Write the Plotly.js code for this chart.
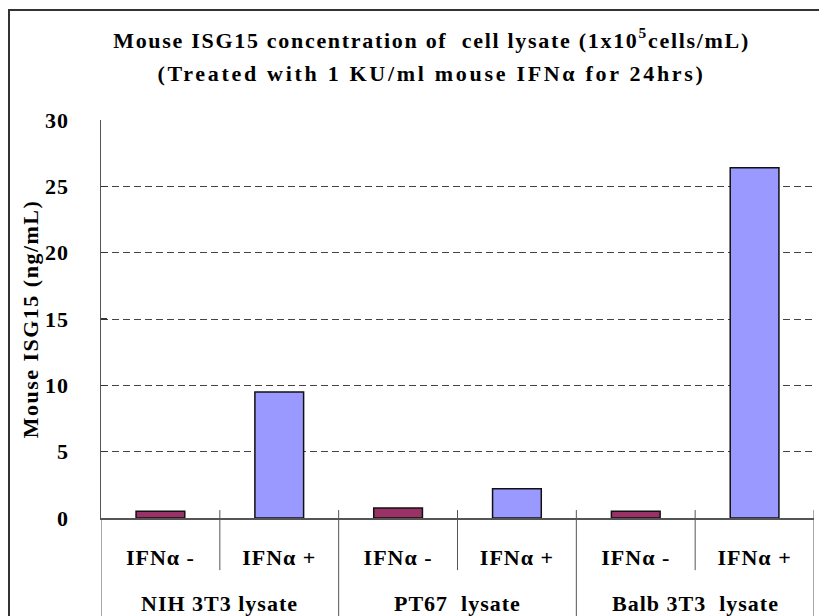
<!DOCTYPE html>
<html>
<head>
<meta charset="utf-8">
<script src="https://cdn.plot.ly/plotly-3.0.1.min.js"></script>
<style>
html,body{margin:0;padding:0;background:#fff;}
#chart{width:819px;height:616px;position:absolute;left:0;top:0;}
#frame{position:absolute;left:8px;top:9px;width:900px;height:700px;border:2px solid #333;pointer-events:none;box-sizing:border-box;}
text{letter-spacing:1px;}
.gtitle{letter-spacing:1.7px;}
.ytitle{letter-spacing:1.5px;}
</style>
</head>
<body>
<div id="chart"></div>
<div id="frame"></div>
<script>
const groups = ["NIH 3T3 lysate", "PT67  lysate", "Balb 3T3  lysate"];
const treatments = ["IFNα -", "IFNα +"];
const valuesMinus = [0.5, 0.75, 0.5];
const valuesPlus = [9.5, 2.2, 26.4];
const colorMinus = "#993366";
const colorPlus = "#9999FF";
const titleLine1 = "Mouse ISG15 concentration of  cell lysate (1x10<sup>5</sup>cells/mL)";
const titleLine2 = "(Treated with 1 KU/ml mouse IFNα for 24hrs)";
const yTitle = "Mouse ISG15 (ng/mL)";

const xPos = [], tickText = [], yVals = [], colors = [];
for (let i = 0; i < groups.length; i++) {
  for (let j = 0; j < treatments.length; j++) {
    xPos.push(i * treatments.length + j);
    tickText.push(treatments[j]);
    yVals.push(j === 0 ? valuesMinus[i] : valuesPlus[i]);
    colors.push(j === 0 ? colorMinus : colorPlus);
  }
}
const nCat = xPos.length;

const fam = "Liberation Serif, Times New Roman, serif";
const font = {family: fam, size: 22, color: "#000", weight: "bold"};

const trace = {
  type: "bar",
  x: xPos,
  y: yVals,
  marker: {color: colors, line: {color: "#111", width: 1.5}},
  width: 0.41,
  hoverinfo: "none"
};

// divider lines (decoration) at category boundaries
const shapes = [];
const lineCol = "#555";
for (let b = 0; b <= nCat; b++) {
  const xb = b - 0.5;
  const isGroup = (b % treatments.length === 0);
  shapes.push({
    type: "line", xref: "x", yref: "paper",
    x0: xb, x1: xb,
    y0: b === 0 ? 0 : 0.02,
    y1: isGroup ? -0.3 : -0.131,
    line: {color: lineCol, width: 1}
  });
}

const annotations = groups.map((g, i) => ({
  text: g, xref: "x", yref: "paper",
  x: i * treatments.length + (treatments.length - 1) / 2,
  y: -0.2136, yanchor: "middle", xanchor: "center",
  showarrow: false, font: font
}));
annotations.push({
  text: "<b>" + titleLine2 + "</b>", xref: "paper", yref: "paper",
  x: (431 - 101) / 713, y: (518 - 73) / 398, xanchor: "center", yanchor: "middle",
  showarrow: false, font: {family: fam, size: 22, color: "#000"}
});

const layout = {
  width: 819, height: 616,
  margin: {l: 101, r: 5, t: 120, b: 98},
  paper_bgcolor: "#fff", plot_bgcolor: "#fff",
  showlegend: false,
  title: {
    text: "<b>" + titleLine1 + "</b>",
    font: {family: fam, size: 22, color: "#000"},
    x: 0.527, xref: "container", xanchor: "center",
    y: 1 - 40 / 616, yref: "container", yanchor: "middle"
  },
  xaxis: {
    range: [-0.5, nCat - 0.5],
    tickvals: xPos, ticktext: tickText,
    showline: true, linecolor: lineCol, linewidth: 1.5,
    ticks: "", ticklabelstandoff: 19,
    tickfont: font,
    showgrid: false, zeroline: false
  },
  yaxis: {
    range: [0, 30], dtick: 5,
    showline: true, linecolor: lineCol, linewidth: 1.5,
    ticks: "inside", ticklen: 6, tickcolor: "#333", tickwidth: 1.5,
    ticklabelstandoff: 26,
    showgrid: true, gridcolor: "#444", griddash: "7px,4px", gridwidth: 1,
    zeroline: false,
    tickfont: font,
    title: {text: "<b>" + yTitle + "</b>", font: {family: fam, size: 22, color: "#000"}, standoff: 0}
  },
  shapes: shapes,
  annotations: annotations
};

Plotly.newPlot("chart", [trace], layout, {displayModeBar: false, staticPlot: true}).then(() => {
  // wider letter spacing on the second title line, as in the reference
  document.querySelectorAll(".annotation-text").forEach(t => {
    if (t.textContent.indexOf("Treated") >= 0) t.style.letterSpacing = "2.7px";
  });
});
</script>
</body>
</html>
